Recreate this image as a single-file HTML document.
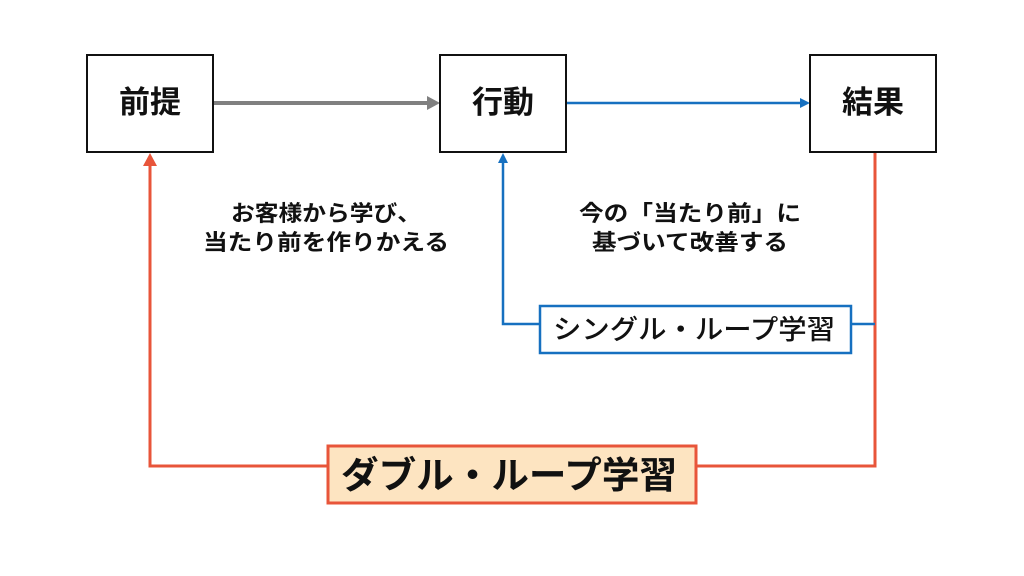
<!DOCTYPE html>
<html><head><meta charset="utf-8"><style>
html,body{margin:0;padding:0;background:#fff;width:1024px;height:576px;overflow:hidden}
text{font-family:"Liberation Sans","Noto Sans CJK JP",sans-serif;font-weight:bold;fill:#111}
</style></head><body>
<svg width="1024" height="576" viewBox="0 0 1024 576" xmlns="http://www.w3.org/2000/svg">
<rect x="0" y="0" width="1024" height="576" fill="#fff"/>
<polyline points="875,152 875,466 150,466 150,165" fill="none" stroke="#e8553a" stroke-width="3"/>
<polygon points="150,153 143,166 157,166" fill="#e8553a"/>
<polyline points="875,324 503,324 503,162" fill="none" stroke="#1670c0" stroke-width="2.5"/>
<polygon points="503,153 498,163 508,163" fill="#1670c0"/>
<line x1="213" y1="103" x2="430" y2="103" stroke="#808080" stroke-width="4"/>
<polygon points="440,103 427,96 427,110" fill="#808080"/>
<line x1="566" y1="103" x2="801" y2="103" stroke="#1670c0" stroke-width="2.5"/>
<polygon points="810,103 800,98 800,108" fill="#1670c0"/>
<rect x="87" y="55" width="126" height="97" fill="#fff" stroke="#111" stroke-width="2"/>
<rect x="440" y="55" width="126" height="97" fill="#fff" stroke="#111" stroke-width="2"/>
<rect x="810" y="55" width="126" height="97" fill="#fff" stroke="#111" stroke-width="2"/>
<text x="150" y="113" font-size="31" text-anchor="middle" textLength="62" lengthAdjust="spacingAndGlyphs">前提</text>
<text x="503" y="113" font-size="31" text-anchor="middle" textLength="62" lengthAdjust="spacingAndGlyphs">行動</text>
<text x="873" y="113" font-size="31" text-anchor="middle" textLength="62" lengthAdjust="spacingAndGlyphs">結果</text>
<text x="326" y="221" font-size="22" text-anchor="middle" textLength="190" lengthAdjust="spacingAndGlyphs">お客様から学び、</text>
<text x="326" y="250" font-size="22" text-anchor="middle" textLength="246" lengthAdjust="spacingAndGlyphs">当たり前を作りかえる</text>
<text x="690" y="221" font-size="22" text-anchor="middle" textLength="222" lengthAdjust="spacingAndGlyphs">今の「当たり前」に</text>
<text x="690" y="250" font-size="22" text-anchor="middle" textLength="196" lengthAdjust="spacingAndGlyphs">基づいて改善する</text>
<rect x="540" y="306" width="311" height="47" fill="#fff" stroke="#1670c0" stroke-width="2.5"/>
<text x="694" y="339" font-size="27" text-anchor="middle" textLength="282" lengthAdjust="spacingAndGlyphs" style="font-weight:500">シングル・ループ学習</text>
<rect x="328" y="446" width="368" height="57" fill="#fde4c1" stroke="#e8553a" stroke-width="3"/>
<text x="509" y="488" font-size="37" text-anchor="middle" textLength="336" lengthAdjust="spacingAndGlyphs">ダブル・ループ学習</text>
</svg>
</body></html>
